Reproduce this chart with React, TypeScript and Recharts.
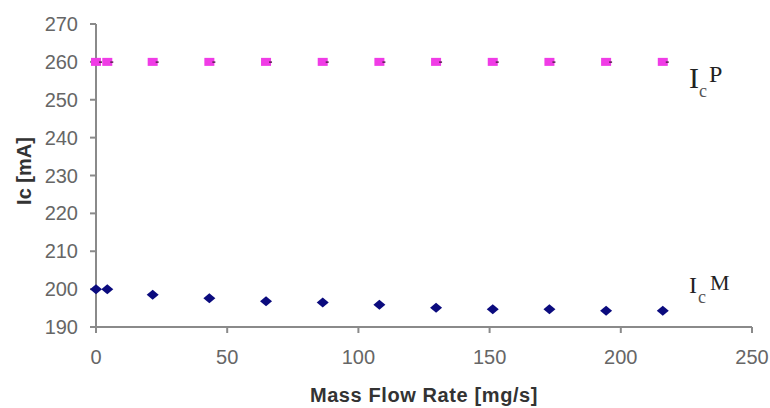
import { ScatterChart, Scatter, XAxis, YAxis } from "recharts";

// mass flow rate [mg/s]
const flowRate = [0, 4.3, 21.6, 43.2, 64.8, 86.4, 108, 129.6, 151.2, 172.8, 194.4, 216];
// critical current, plasma mode / magnetic mode [mA]
const icP = [260, 260, 260, 260, 260, 260, 260, 260, 260, 260, 260, 260];
const icM = [200, 200, 198.5, 197.6, 196.8, 196.5, 195.9, 195.1, 194.7, 194.7, 194.3, 194.3];

const xTicks = [0, 50, 100, 150, 200, 250];
const yTicks = [190, 200, 210, 220, 230, 240, 250, 260, 270];

const dataP = flowRate.map((x, i) => ({ x, y: icP[i] }));
const dataM = flowRate.map((x, i) => ({ x, y: icM[i] }));

const PINK = "#F03CE6";
const NAVY = "#0B0B7E";
const AXIS = "#8a8a8a";
const tickStyle = { fill: "#666", fontSize: 20, fontFamily: "Liberation Sans, Arial, sans-serif" };

const Square = (props: any) => {
  const { cx, cy } = props;
  return (
    <g>
      <rect x={cx - 5} y={cy - 4} width={10} height={8} fill={PINK} />
      <rect x={cx + 3} y={cy - 0.5} width={3} height={1.5} fill="#5a2050" />
    </g>
  );
};

const Diamond = (props: any) => {
  const { cx, cy } = props;
  return <polygon points={`${cx - 6},${cy} ${cx},${cy - 5} ${cx + 6},${cy} ${cx},${cy + 5}`} fill={NAVY} />;
};

export default function App() {
  return (
    <div style={{ position: "relative", width: 770, height: 408, background: "#fff" }}>
      <style>{"body{margin:0}"}</style>
      <ScatterChart width={770} height={408} margin={{ top: 24, right: 18, left: 0, bottom: 0 }}>
        <XAxis
          type="number"
          dataKey="x"
          domain={[0, 250]}
          ticks={xTicks}
          height={81}
          tickSize={6}
          tickMargin={17}
          tick={tickStyle}
          axisLine={{ stroke: AXIS, strokeWidth: 2 }}
          tickLine={{ stroke: AXIS, strokeWidth: 2 }}
        />
        <YAxis
          type="number"
          dataKey="y"
          domain={[190, 270]}
          ticks={yTicks}
          width={96}
          tickSize={6}
          tickMargin={12}
          tick={tickStyle}
          axisLine={{ stroke: AXIS, strokeWidth: 2 }}
          tickLine={{ stroke: AXIS, strokeWidth: 2 }}
        />
        <Scatter data={dataP} shape={Square} isAnimationActive={false} />
        <Scatter data={dataM} shape={Diamond} isAnimationActive={false} />
      </ScatterChart>
      <svg
        width={770}
        height={408}
        style={{ position: "absolute", left: 0, top: 0, pointerEvents: "none" }}
      >
        <text
          x={24}
          y={171}
          transform="rotate(-90 24 171)"
          textAnchor="middle"
          dominantBaseline="central"
          fontFamily="Liberation Sans, Arial, sans-serif"
          fontWeight="bold"
          fontSize={20}
          fill="#333"
        >
          Ic [mA]
        </text>
        <text
          x={424}
          y={402}
          textAnchor="middle"
          fontFamily="Liberation Sans, Arial, sans-serif"
          fontWeight="bold"
          fontSize={20}
          letterSpacing={0.6}
          fill="#333"
        >
          Mass Flow Rate [mg/s]
        </text>
        <g fontFamily="Liberation Serif, Times New Roman, serif" fill="#222">
          <text x={689} y={88} fontSize={30}>I</text>
          <text x={699} y={97} fontSize={18} fill="#555">c</text>
          <text x={709} y={82} fontSize={24}>P</text>
          <text x={689} y={293} fontSize={24}>I</text>
          <text x={698} y={303} fontSize={18} fill="#555">c</text>
          <text x={710} y={290} fontSize={22}>M</text>
        </g>
      </svg>
    </div>
  );
}
